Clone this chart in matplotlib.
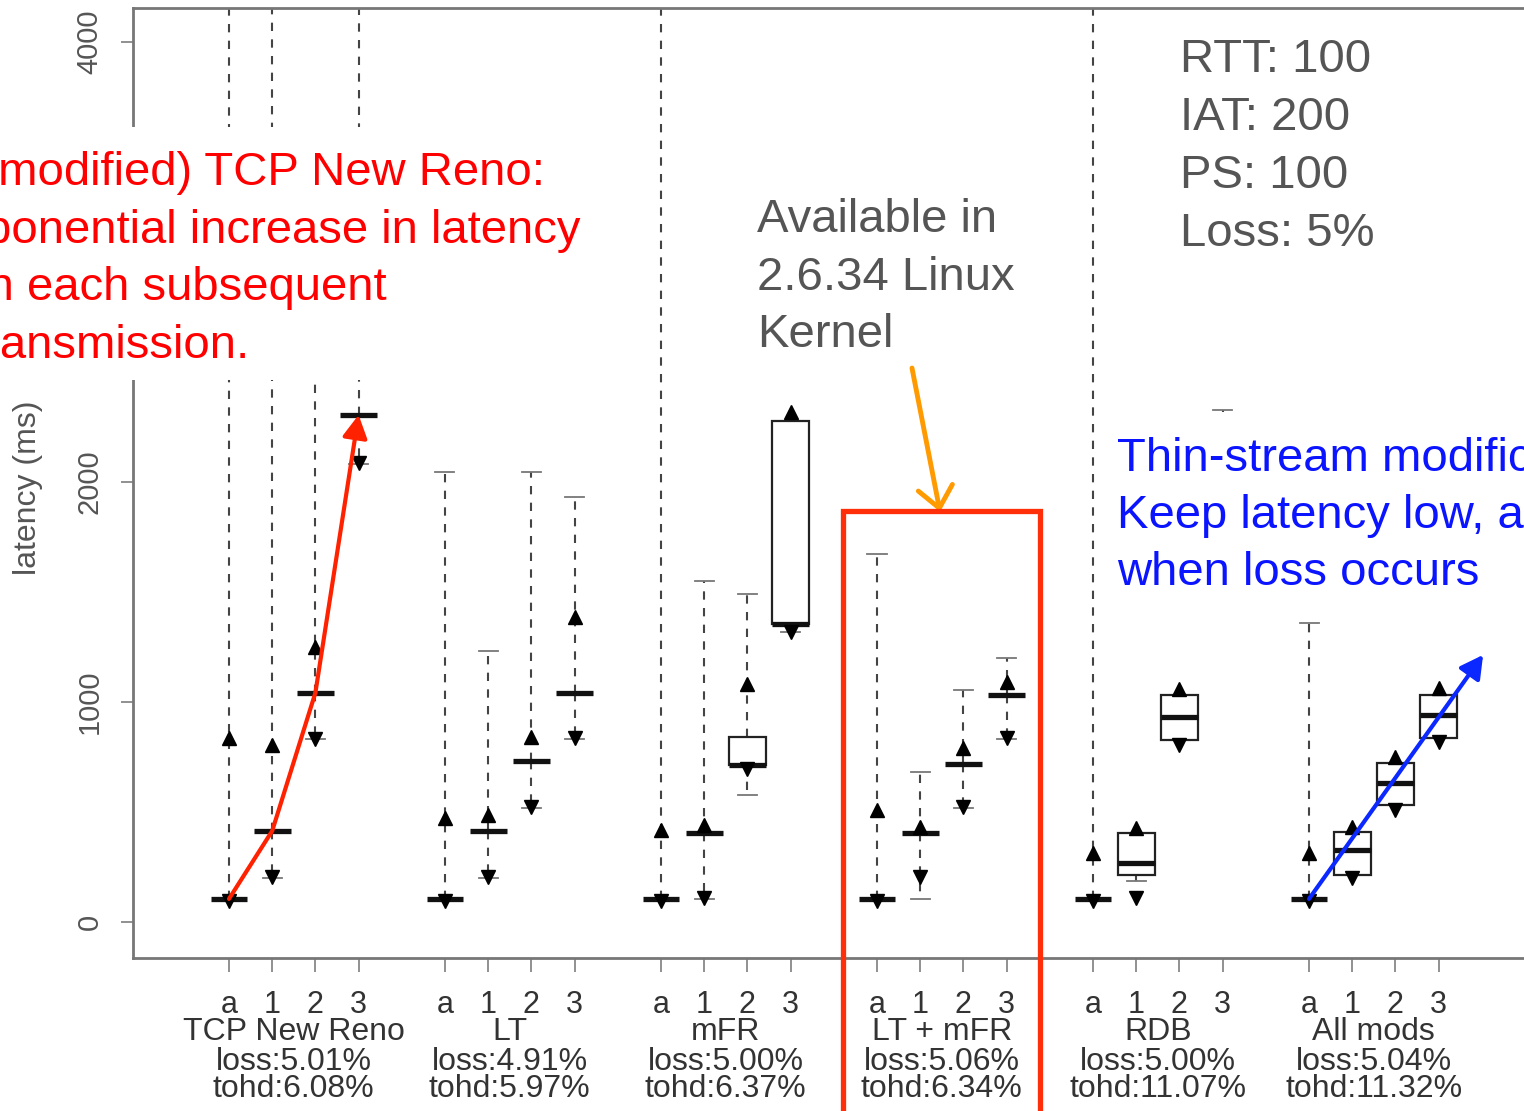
import matplotlib.pyplot as plt
from matplotlib.patches import Rectangle
from matplotlib.transforms import blended_transform_factory

plt.rcParams['font.family'] = ['Liberation Sans', 'DejaVu Sans']

groups = ["TCP New Reno", "LT", "mFR", "LT + mFR", "RDB", "All mods"]
loss = ["loss:5.01%", "loss:4.91%", "loss:5.00%", "loss:5.06%", "loss:5.00%", "loss:5.04%"]
tohd = ["tohd:6.08%", "tohd:5.97%", "tohd:6.37%", "tohd:6.34%", "tohd:11.07%", "tohd:11.32%"]
items = ["a", "1", "2", "3"]

# latency (ms) per group, for items a, 1, 2, 3
median = [[105, 414, 1042, 2305], [105, 414, 733, 1041], [105, 405, 714, 1355],
          [105, 404, 718, 1032], [105, 268, 933, 1900], [105, 327, 633, 941]]
q1 = [[105, 414, 1042, 2305], [105, 414, 733, 1041], [105, 405, 714, 1355],
      [105, 404, 718, 1032], [105, 214, 827, 1850], [105, 214, 532, 836]]
q3 = [[105, 414, 1042, 2305], [105, 414, 733, 1041], [105, 405, 841, 2277],
      [105, 404, 718, 1032], [105, 406, 1032, 2000], [105, 410, 721, 1032]]
whisk_lo = [[100, 200, 830, 2080], [100, 200, 520, 830], [100, 105, 577, 1320],
            [100, 105, 520, 830], [100, 186, 827, 1700], [100, 214, 532, 836]]
whisk_hi = [[5000, 5000, 3400, 5000], [2047, 1233, 2047, 1932], [5000, 1550, 1490, 2277],
            [1673, 683, 1055, 1200], [5000, 406, 1032, 2325], [1361, 410, 721, 1032]]
pct_lo = [[95, 205, 832, 2086], [95, 206, 524, 836], [95, 110, 695, 1318],
          [95, 206, 524, 836], [95, 110, 805, 1650], [95, 200, 509, 819]]
pct_hi = [[835, 805, 1250, 4400], [473, 486, 842, 1388], [419, 440, 1080, 2318],
          [509, 433, 791, 1092], [313, 427, 1059, 2050], [313, 433, 751, 1064]]

W, H = 1524, 1111
def fx(px): return px / W
def fy(py): return 1 - py / H

fig = plt.figure(figsize=(15.24, 11.11), dpi=100)
ax = fig.add_axes([fx(133), fy(958), fx(1560) - fx(133), fy(8) - fy(958)])
ax.set_xlim(-1.222, 31.81)
ax.set_ylim(-163.6, 4154.5)

bw = 0.85  # box width
cw = 0.22  # half cap width
positions = []
for g in range(len(groups)):
    for i in range(4):
        p = 1 + 5 * g + i
        positions.append(p)
        med, lo, hi = median[g][i], q1[g][i], q3[g][i]
        # whiskers
        ax.plot([p, p], [hi, whisk_hi[g][i]], color='#444', lw=1.5, ls=(0, (4, 4)), zorder=2)
        ax.plot([p, p], [lo, whisk_lo[g][i]], color='#444', lw=1.5, ls=(0, (4, 4)), zorder=2)
        ax.plot([p - cw, p + cw], [whisk_hi[g][i]] * 2, color='#777', lw=1.3, zorder=2)
        ax.plot([p - cw, p + cw], [whisk_lo[g][i]] * 2, color='#777', lw=1.3, zorder=2)
        if hi - lo > 0:
            ax.add_patch(Rectangle((p - bw / 2, lo), bw, hi - lo, facecolor='white',
                                   edgecolor='#222', lw=1.6, zorder=3))
        ax.plot([p - bw / 2, p + bw / 2], [med, med], color='#111', lw=3.8,
                solid_capstyle='butt', zorder=4)
        ax.plot(p, pct_hi[g][i], marker='^', color='black', ms=10, zorder=5)
        ax.plot(p, pct_lo[g][i], marker='v', color='black', ms=10, zorder=5)

for s in ax.spines.values():
    s.set_color('#777')
    s.set_linewidth(2)

ax.set_xticks(positions)
ax.set_xticklabels(items * len(groups))
ax.tick_params(axis='x', length=10, width=1.3, color='#888', pad=13, labelsize=22, labelcolor='#333')
ax.set_yticks([0, 1000, 2000, 4000])
ax.set_yticklabels(["0", "1000", "2000", "4000"], rotation=90, va='center')
ax.tick_params(axis='y', length=9, width=1.3, color='#888', pad=12, labelsize=21, labelcolor='#555')

tr = blended_transform_factory(ax.transData, fig.transFigure)
for g, name in enumerate(groups):
    c = 1 + 5 * g + 1.5
    ax.text(c, fy(1032), name, transform=tr, ha='center', va='center', fontsize=23, color='#333')
    ax.text(c, fy(1062), loss[g], transform=tr, ha='center', va='center', fontsize=23, color='#333')
    ax.text(c, fy(1089), tohd[g], transform=tr, ha='center', va='center', fontsize=23, color='#333')

fig.text(fx(28), fy(488), "latency (ms)", rotation=90, ha='center', va='center',
         fontsize=23, color='#555')

# annotations
tcp = [1, 2, 3, 4]
ax.plot(tcp[:3], median[0][:3], color='#ff2200', lw=3, zorder=7, solid_capstyle='round')
ax.annotate('', xy=(tcp[3], median[0][3]), xytext=(tcp[2], median[0][2]),
            arrowprops=dict(arrowstyle='-|>,head_length=0.55,head_width=0.3', color='#ff2200',
                            lw=3, shrinkA=0, shrinkB=0, mutation_scale=25), zorder=7)
ax.annotate('', xy=(30.03, 1214), xytext=(26, 105),
            arrowprops=dict(arrowstyle='-|>,head_length=0.55,head_width=0.3', color='#0a28ff',
                            lw=3, shrinkA=0, shrinkB=0, mutation_scale=25), zorder=7)
ax.annotate('', xy=(17.46, 1864), xytext=(16.81, 2518),
            arrowprops=dict(arrowstyle='->,head_length=0.6,head_width=0.5', color='#ff9a00',
                            lw=3.5, shrinkA=0, shrinkB=0, mutation_scale=25), zorder=7)
ax.add_patch(Rectangle((15.213, -1500), 19.773 - 15.213, 1868 + 1500, fill=False,
                       edgecolor='#ff2f0a', lw=3.8, clip_on=False, zorder=8))

fig.add_artist(Rectangle((fx(0), fy(380)), fx(600), fy(127) - fy(380), transform=fig.transFigure,
                         facecolor='white', edgecolor='none', zorder=5))
fig.add_artist(Rectangle((fx(1105), fy(600)), fx(1524) - fx(1105), fy(412) - fy(600),
                         transform=fig.transFigure, facecolor='white', edgecolor='none', zorder=5))

red_lines = ["(unmodified) TCP New Reno:", "Exponential increase in latency",
             "with each subsequent", "retransmission."]
for k, line in enumerate(red_lines):
    fig.text(fx(-70), fy(185 + 57.7 * k), line, fontsize=34, color='#ff0000', va='baseline', zorder=6)

gray_lines = ["Available in", "2.6.34 Linux", "Kernel"]
for k, line in enumerate(gray_lines):
    fig.text(fx(757), fy(232 + 57.5 * k), line, fontsize=34, color='#555555', va='baseline', zorder=6)

setup_lines = ["RTT: 100", "IAT: 200", "PS: 100", "Loss: 5%"]
for k, line in enumerate(setup_lines):
    fig.text(fx(1180), fy(72 + 58 * k), line, fontsize=34, color='#555555', va='baseline', zorder=6)

blue_lines = ["Thin-stream modifications:", "Keep latency low, also", "when loss occurs"]
for k, line in enumerate(blue_lines):
    fig.text(fx(1117), fy(471 + 57 * k), line, fontsize=34, color='#0a14ff', va='baseline', zorder=6)

fig.savefig("out.png", dpi=100)
